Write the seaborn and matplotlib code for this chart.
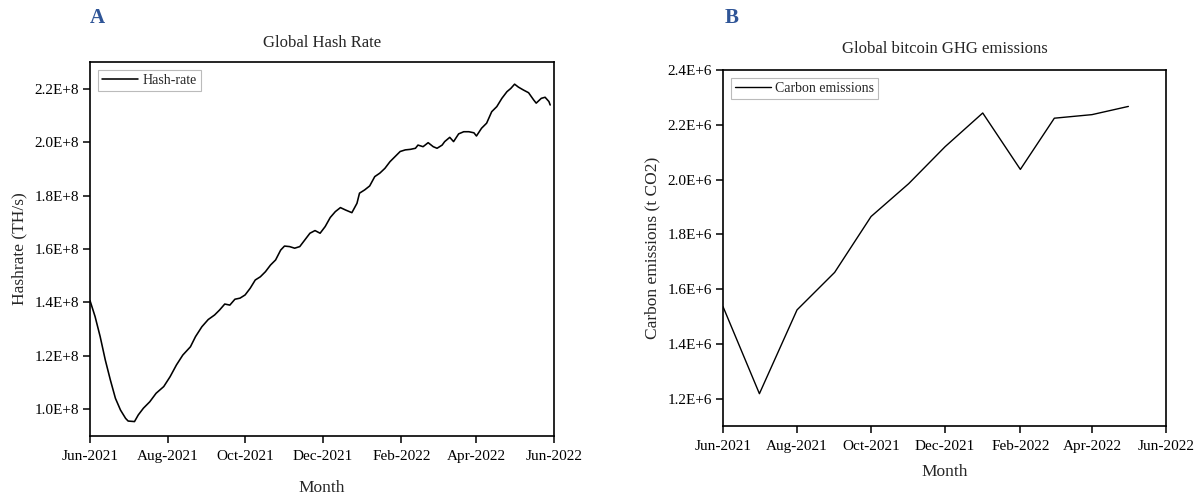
import numpy as np
import pandas as pd
import matplotlib
matplotlib.use("Agg")
import matplotlib.pyplot as plt
import matplotlib.dates as mdates
from matplotlib.ticker import FuncFormatter, FixedLocator
import seaborn as sns

# ---------------- data ----------------
start_date = "2021-06-01"
# days after 2021-06-01 and hash rate (in units of 1E+8 TH/s)
hash_day = [0, 4, 8, 12, 16, 20, 24, 28, 30, 35, 38, 42, 47, 52, 58, 63, 68, 73, 79, 83,
            88, 93, 98, 102, 106, 110, 114, 118, 122, 126, 130, 134, 138, 142, 146, 150,
            153, 157, 161, 165, 169, 173, 177, 181, 185, 189, 193, 197, 201, 206, 210, 212,
            216, 220, 224, 228, 232, 236, 240, 244, 248, 252, 256, 258, 262, 266, 270, 273,
            277, 279, 283, 286, 290, 294, 298, 302, 304, 308, 312, 316, 320, 324, 328, 331,
            334, 337, 341, 345, 349, 351, 355, 358, 361, 362]
hash_rate_e8 = [1.407, 1.347, 1.272, 1.185, 1.110, 1.041, 0.997, 0.966, 0.956, 0.954, 0.979,
                1.004, 1.028, 1.060, 1.085, 1.122, 1.166, 1.203, 1.234, 1.272, 1.309, 1.336,
                1.353, 1.372, 1.394, 1.390, 1.412, 1.416, 1.428, 1.453, 1.484, 1.496, 1.515,
                1.540, 1.559, 1.596, 1.611, 1.609, 1.603, 1.609, 1.634, 1.659, 1.669, 1.659,
                1.684, 1.718, 1.740, 1.755, 1.746, 1.736, 1.771, 1.809, 1.821, 1.836, 1.871,
                1.884, 1.902, 1.927, 1.946, 1.965, 1.971, 1.973, 1.977, 1.989, 1.983, 1.998,
                1.983, 1.977, 1.989, 2.002, 2.018, 2.002, 2.031, 2.039, 2.039, 2.035, 2.023,
                2.052, 2.071, 2.114, 2.133, 2.164, 2.189, 2.201, 2.217, 2.206, 2.195, 2.185,
                2.158, 2.146, 2.164, 2.168, 2.152, 2.139]

carbon_months = ["2021-06-01", "2021-07-01", "2021-08-01", "2021-09-01", "2021-10-01",
                 "2021-11-01", "2021-12-01", "2022-01-01", "2022-02-01", "2022-03-01",
                 "2022-04-01", "2022-05-01"]
carbon_e6 = [1.536, 1.218, 1.524, 1.661, 1.865, 1.985, 2.120, 2.243, 2.037, 2.224, 2.237, 2.267]

x_ticks = ["2021-06-01", "2021-08-01", "2021-10-01", "2021-12-01",
           "2022-02-01", "2022-04-01", "2022-06-01"]
hash_yticks = [1.0e8, 1.2e8, 1.4e8, 1.6e8, 1.8e8, 2.0e8, 2.2e8]
carbon_yticks = [1.2e6, 1.4e6, 1.6e6, 1.8e6, 2.0e6, 2.2e6, 2.4e6]

hash_df = pd.DataFrame({
    "Month": pd.to_datetime(start_date) + pd.to_timedelta(hash_day, unit="D"),
    "Hashrate": np.array(hash_rate_e8) * 1e8,
})
carbon_df = pd.DataFrame({
    "Month": pd.to_datetime(carbon_months),
    "Carbon": np.array(carbon_e6) * 1e6,
})

# ---------------- style ----------------
sns.set_style("ticks")
plt.rcParams["font.family"] = ["Liberation Serif", "DejaVu Serif"]

fig = plt.figure(figsize=(12.02, 4.94), dpi=100)
ax1 = fig.add_axes([90 / 1202, 1 - 436 / 494, (554 - 90) / 1202, (436 - 62) / 494])
ax2 = fig.add_axes([723 / 1202, 1 - 426 / 494, (1166 - 723) / 1202, (426 - 70) / 494])

tick_fs = 11
label_fs = 12.5
title_fs = 12

sns.lineplot(data=hash_df, x="Month", y="Hashrate", ax=ax1, color="black",
             linewidth=1.15, label="Hash-rate")
sns.lineplot(data=carbon_df, x="Month", y="Carbon", ax=ax2, color="black",
             linewidth=1.0, label="Carbon emissions")

xt = mdates.date2num(pd.to_datetime(x_ticks))
for ax in (ax1, ax2):
    ax.set_xlim(xt[0], xt[-1])
    ax.xaxis.set_major_locator(FixedLocator(xt))
    ax.xaxis.set_major_formatter(mdates.DateFormatter("%b-%Y"))
    ax.tick_params(axis="both", direction="out", length=5, width=1.1,
                   labelsize=tick_fs, color="black", labelcolor="black", pad=3)
    ax.tick_params(axis="x", pad=5)
    for sp in ax.spines.values():
        sp.set_visible(True)
        sp.set_linewidth(1.2)
        sp.set_color("black")
    ax.grid(False)
    leg = ax.legend(loc="upper left", frameon=True, fancybox=False, fontsize=10,
                    handlelength=2.6, handletextpad=0.3, borderpad=0.3,
                    borderaxespad=0.55)
    leg.get_frame().set_edgecolor("#aaaaaa")
    leg.get_frame().set_linewidth(0.8)

ax1.set_ylim(0.9e8, 2.3e8)
ax1.yaxis.set_major_locator(FixedLocator(hash_yticks))
ax1.yaxis.set_major_formatter(FuncFormatter(lambda v, p: f"{v / 1e8:.1f}E+8"))
ax2.set_ylim(1.1e6, 2.4e6)
ax2.yaxis.set_major_locator(FixedLocator(carbon_yticks))
ax2.yaxis.set_major_formatter(FuncFormatter(lambda v, p: f"{v / 1e6:.1f}E+6"))

ax1.set_title("Global Hash Rate", fontsize=title_fs, pad=11)
ax2.set_title("Global bitcoin GHG emissions", fontsize=title_fs, pad=12)
ax1.set_xlabel("Month", fontsize=label_fs, labelpad=12)
ax2.set_xlabel("Month", fontsize=label_fs, labelpad=8)
ax1.set_ylabel("Hashrate (TH/s)", fontsize=label_fs, labelpad=5)
ax2.set_ylabel("Carbon emissions (t CO2)", fontsize=label_fs, labelpad=5)

fig.text(97 / 1202, 1 - 18 / 494, "A", fontsize=15, fontweight="bold",
         color="#2f5597", ha="center", va="center")
fig.text(732 / 1202, 1 - 18 / 494, "B", fontsize=15, fontweight="bold",
         color="#2f5597", ha="center", va="center")

fig.savefig("out.png", dpi=100, facecolor="white")
